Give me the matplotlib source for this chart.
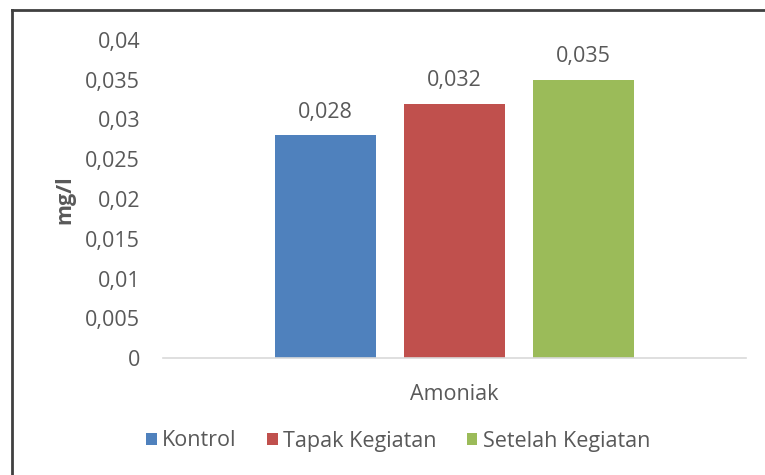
import matplotlib
matplotlib.use("Agg")
import matplotlib.pyplot as plt
from matplotlib.lines import Line2D
from matplotlib.patches import Patch

categories = ["Amoniak"]
series_names = ["Kontrol", "Tapak Kegiatan", "Setelah Kegiatan"]
values = [0.028, 0.032, 0.035]
labels = ["0,028", "0,032", "0,035"]
yticks = [0, 0.005, 0.01, 0.015, 0.02, 0.025, 0.03, 0.035, 0.04]
yticklabels = ["0", "0,005", "0,01", "0,015", "0,02", "0,025", "0,03", "0,035", "0,04"]
colors = ["#4f81bd", "#c0504d", "#9bbb59"]

plt.rcParams['font.family'] = ['Open Sans', 'DejaVu Sans']
txt = "#595959"
fs = 15.5

W, H = 765, 475
fig = plt.figure(figsize=(W/100, H/100), dpi=100)
ax = fig.add_axes([163/W, 1-358/H, (746-163)/W, (358-40)/H])

bw = 101/583
step = 129/583
for i, (v, c, lab) in enumerate(zip(values, colors, labels)):
    x = (i-1)*step
    ax.bar(x, v, width=bw, color=c, zorder=3)
    ax.annotate(lab, (x, v), xytext=(0, 9), textcoords='offset points',
                ha='center', va='bottom', fontsize=fs, color=txt)

ax.set_xlim(-0.5, 0.5)
ax.set_ylim(0, 0.04)
ax.set_yticks(yticks)
ax.set_yticklabels(yticklabels, fontsize=fs, color=txt)
ax.set_xticks([0])
ax.set_xticklabels(categories, fontsize=fs, color=txt)
ax.tick_params(axis='both', length=0)
ax.tick_params(axis='y', pad=16.5)
ax.tick_params(axis='x', pad=19)
for s in ['left', 'right', 'top']:
    ax.spines[s].set_visible(False)
ax.spines['bottom'].set_color('#d9d9d9')
ax.spines['bottom'].set_linewidth(1.2)
ax.spines['bottom'].set_zorder(4)

fig.text(65/W, 1-200/H, "mg/l", rotation=90, ha='center', va='center',
         fontsize=fs, fontweight='bold', color=txt)

handles = [Patch(facecolor=c, edgecolor='none') for c in colors]
fig.legend(handles, series_names, loc='center', bbox_to_anchor=(398/W, 1-441/H),
           ncol=3, frameon=False, fontsize=fs, labelcolor=txt,
           handlelength=0.5, handleheight=0.5, handletextpad=0.25, columnspacing=1.4)

fig.add_artist(Line2D([12/W, 12/W], [0, 1-10/H], color='#404040', lw=2.0))
fig.add_artist(Line2D([12/W, 1], [1-10/H, 1-10/H], color='#404040', lw=2.0))

fig.savefig("out.png", dpi=100)
